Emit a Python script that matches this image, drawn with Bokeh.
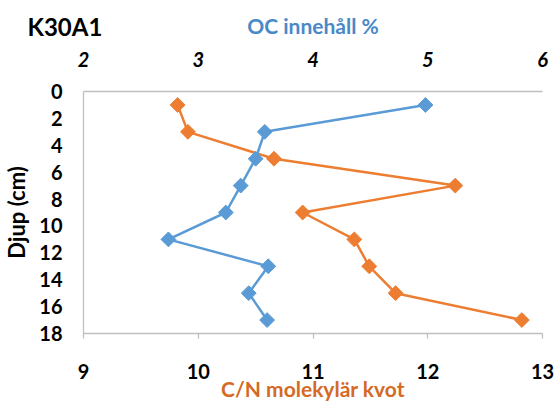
import math
from bokeh.plotting import figure
from bokeh.models import Range1d, LinearAxis, FixedTicker, Title
from bokeh.embed import file_html
from bokeh.resources import INLINE

# ---- data ----
depth = [1, 3, 5, 7, 9, 11, 13, 15, 17]
oc_pct = [4.98, 3.58, 3.50, 3.37, 3.24, 2.74, 3.61, 3.44, 3.60]
cn_ratio = [9.82, 9.91, 10.66, 12.24, 10.91, 11.36, 11.49, 11.72, 12.82]
cn_ticks = [9, 10, 11, 12, 13]
oc_ticks = [2, 3, 4, 5, 6]
depth_ticks = [0, 2, 4, 6, 8, 10, 12, 14, 16, 18]

BLUE = "#5B9BD5"
ORANGE = "#ED7D31"
BLUE_TXT = "#4A89C8"
ORANGE_TXT = "#D46A26"
GRID = "#BFBFBF"
FONT = "Lato"

p = figure(width=556, height=403, output_backend="svg", toolbar_location=None,
           x_range=Range1d(cn_ticks[0], cn_ticks[-1]),
           y_range=Range1d(depth_ticks[-1], depth_ticks[0]),
           min_border_left=82, min_border_right=14,
           min_border_top=91, min_border_bottom=64)
p.outline_line_color = None
p.xgrid.visible = False
p.ygrid.visible = False
p.background_fill_color = "white"
p.border_fill_color = "white"

p.title = Title(text="K30A1", align="left", offset=-56, vertical_align="bottom",
                standoff=-62, text_font=FONT, text_font_style="bold",
                text_font_size="24px", text_color="black")

p.extra_x_ranges = {"oc": Range1d(oc_ticks[0], oc_ticks[-1])}

# bottom axis (C/N)
xa = p.xaxis[0]
xa.ticker = FixedTicker(ticks=cn_ticks)
xa.axis_line_color = GRID
xa.axis_line_width = 1.3
xa.major_tick_line_color = GRID
xa.major_tick_line_width = 1.3
xa.major_tick_out = 5
xa.major_tick_in = 0
xa.minor_tick_line_color = None
xa.major_label_text_font = FONT
xa.major_label_text_font_style = "bold"
xa.major_label_text_font_size = "20px"
xa.major_label_text_color = "black"
xa.major_label_standoff = 25
xa.axis_label = "C/N molekylär kvot"
xa.axis_label_text_font = FONT
xa.axis_label_text_font_style = "bold"
xa.axis_label_text_font_size = "21px"
xa.axis_label_text_color = ORANGE_TXT
xa.axis_label_standoff = -6

# left axis (depth)
ya = p.yaxis[0]
ya.ticker = FixedTicker(ticks=depth_ticks)
ya.axis_line_color = GRID
ya.axis_line_width = 1.3
ya.major_tick_line_color = None
ya.major_tick_out = 0
ya.major_tick_in = 0
ya.minor_tick_line_color = None
ya.major_label_text_font = FONT
ya.major_label_text_font_style = "bold"
ya.major_label_text_font_size = "20px"
ya.major_label_text_color = "black"
ya.major_label_standoff = 21
ya.axis_label = "Djup (cm)"
ya.axis_label_text_font = FONT
ya.axis_label_text_font_style = "bold"
ya.axis_label_text_font_size = "22px"
ya.axis_label_text_color = "black"
ya.axis_label_standoff = 6

# top axis (OC)
top = LinearAxis(x_range_name="oc", ticker=FixedTicker(ticks=oc_ticks))
top.axis_line_color = GRID
top.axis_line_width = 1.3
top.major_tick_line_color = None
top.major_tick_out = 0
top.major_tick_in = 0
top.minor_tick_line_color = None
top.major_label_text_font = FONT
top.major_label_text_font_style = "bold italic"
top.major_label_text_font_size = "20px"
top.major_label_text_color = "black"
top.major_label_standoff = 25
top.axis_label = "OC innehåll %"
top.axis_label_text_font = FONT
top.axis_label_text_font_style = "bold"
top.axis_label_text_font_size = "21px"
top.axis_label_text_color = BLUE_TXT
top.axis_label_standoff = 11
p.add_layout(top, "above")

# series
p.line(cn_ratio, depth, line_color=ORANGE, line_width=2.5)
p.scatter(cn_ratio, depth, marker="square", size=10.5, angle=math.pi / 4,
          fill_color=ORANGE, line_color=ORANGE)
p.line(oc_pct, depth, line_color=BLUE, line_width=2.5, x_range_name="oc")
p.scatter(oc_pct, depth, marker="square", size=10.5, angle=math.pi / 4,
          fill_color=BLUE, line_color=BLUE, x_range_name="oc")

open("out.html", "w").write(file_html(p, INLINE))
